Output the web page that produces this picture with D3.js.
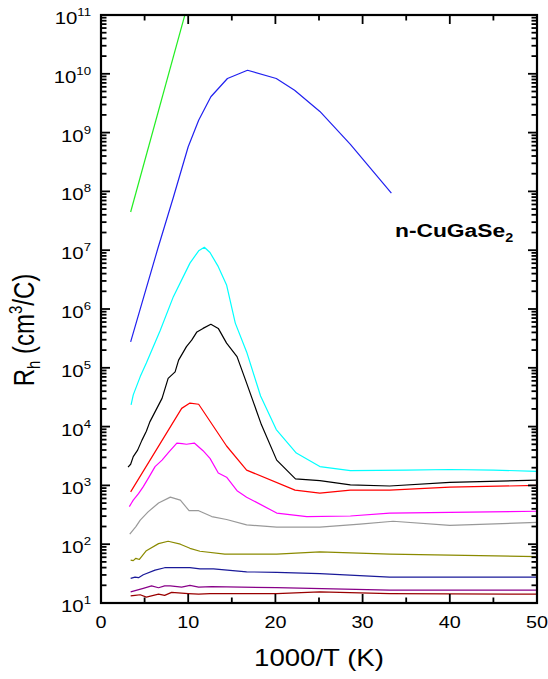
<!DOCTYPE html>
<html>
<head>
<meta charset="utf-8">
<script src="https://cdn.jsdelivr.net/npm/d3@7"></script>
<style>
  body { margin: 0; background: #fff; }
  svg { display: block; font-family: "Liberation Sans", Arial, Helvetica, sans-serif; }
</style>
</head>
<body>
<svg id="chart" width="548" height="679"></svg>
<script>
// ---- data (x = 1000/T in 1/K, values = log10 of R_h in cm^3/C) ----
const xTicks = [0, 10, 20, 30, 40, 50];
const yExponents = [1, 2, 3, 4, 5, 6, 7, 8, 9, 10, 11];

const greenX = [3.4, 9.8];
const greenLog = [7.65, 11.1];

const blueX = [3.4, 6.5, 8.3, 10.0, 11.2, 12.6, 14.5, 16.8, 20.1, 22.2, 25.1, 28.6, 33.3];
const blueLog = [5.44, 7.02, 7.9, 8.76, 9.21, 9.61, 9.92, 10.06, 9.92, 9.72, 9.36, 8.80, 7.97];

const cyanX = [3.45, 3.7, 4.5, 5.2, 6.8, 8.3, 10.2, 11.2, 11.85, 12.5, 13.45, 14.4, 15.4, 16.7, 18.3, 20.1, 22.4, 25.1, 28.6, 35, 40, 45, 50];
const cyanLog = [4.37, 4.54, 4.85, 5.08, 5.64, 6.21, 6.78, 6.99, 7.05, 6.96, 6.72, 6.41, 5.76, 5.27, 4.52, 3.95, 3.55, 3.32, 3.25, 3.26, 3.27, 3.26, 3.24];

const blackX = [3.1, 3.4, 3.7, 4.2, 4.7, 5.2, 5.6, 6.3, 7.0, 7.7, 8.5, 8.9, 9.8, 10.4, 11.0, 11.7, 12.6, 13.45, 14.4, 15.6, 16.7, 18.4, 20.15, 22.3, 25.1, 28.6, 33.1, 40, 50];
const blackLog = [3.31, 3.36, 3.49, 3.6, 3.77, 3.92, 4.08, 4.28, 4.48, 4.82, 4.93, 5.13, 5.36, 5.47, 5.61, 5.67, 5.74, 5.67, 5.42, 5.19, 4.74, 4.03, 3.43, 3.11, 3.08, 3.01, 2.99, 3.05, 3.09];

const redX = [3.4, 9.25, 10.2, 11.2, 14.4, 16.7, 22.25, 25.1, 28.6, 33.1, 40, 50];
const redLog = [2.89, 4.31, 4.40, 4.38, 3.67, 3.26, 2.92, 2.87, 2.92, 2.92, 2.97, 3.00];

const magentaX = [3.25, 3.5, 3.7, 4.3, 4.85, 5.5, 6.2, 7.0, 7.8, 8.7, 9.3, 9.8, 10.7, 11.7, 12.5, 13.45, 14.4, 15.6, 16.7, 20.15, 23.6, 28.6, 33.1, 40, 50];
const magentaLog = [2.64, 2.7, 2.75, 2.86, 2.98, 3.14, 3.32, 3.43, 3.57, 3.72, 3.71, 3.70, 3.72, 3.59, 3.46, 3.21, 3.14, 2.91, 2.80, 2.53, 2.47, 2.48, 2.53, 2.54, 2.56];

const grayX = [3.3, 4.0, 4.5, 5.4, 6.6, 7.95, 9.1, 10.1, 11.2, 12.7, 14.4, 16.7, 20.15, 25.1, 29.7, 33.5, 40, 50];
const grayLog = [2.17, 2.3, 2.41, 2.55, 2.70, 2.80, 2.75, 2.57, 2.57, 2.47, 2.42, 2.33, 2.29, 2.29, 2.34, 2.39, 2.32, 2.37];

const oliveX = [3.4, 3.7, 4.0, 4.4, 5.2, 6.6, 7.7, 9.1, 10.2, 11.35, 14.2, 20.15, 25.1, 33.1, 50];
const oliveLog = [1.73, 1.72, 1.76, 1.74, 1.89, 2.01, 2.05, 2.00, 1.93, 1.88, 1.83, 1.83, 1.87, 1.83, 1.79];

const navyX = [3.4, 3.9, 4.3, 4.85, 6.2, 7.3, 10.2, 11.35, 12.9, 16.7, 20.15, 25.1, 33.1, 50];
const navyLog = [1.42, 1.44, 1.43, 1.48, 1.56, 1.60, 1.60, 1.58, 1.58, 1.53, 1.52, 1.50, 1.44, 1.44];

const purpleX = [3.4, 4.85, 5.8, 6.6, 7.3, 7.95, 9.25, 10.2, 11.2, 12.7, 20.15, 33.1, 50];
const purpleLog = [1.19, 1.25, 1.29, 1.26, 1.29, 1.29, 1.27, 1.30, 1.27, 1.28, 1.26, 1.22, 1.22];

const darkredX = [3.4, 3.9, 4.5, 5.2, 6.6, 7.3, 8.1, 10.0, 11.2, 12.5, 20.15, 25.1, 33.1, 50];
const darkredLog = [1.12, 1.13, 1.14, 1.10, 1.15, 1.13, 1.18, 1.16, 1.15, 1.16, 1.16, 1.19, 1.16, 1.15];

const seriesColors = ["#22ee22", "#2020f0", "#00ffff", "#000000", "#ff0000", "#ff00ff", "#999999", "#8a8a00", "#1a1a99", "#880088", "#990000"];

// ---- chart ----
const series = [
  [greenX, greenLog], [blueX, blueLog], [cyanX, cyanLog], [blackX, blackLog],
  [redX, redLog], [magentaX, magentaLog], [grayX, grayLog], [oliveX, oliveLog],
  [navyX, navyLog], [purpleX, purpleLog], [darkredX, darkredLog]
];

const svg = d3.select("#chart");
const margin = { left: 101, right: 11, top: 15, bottom: 76 };
const W = 548, H = 679;
const x = d3.scaleLinear().domain([0, 50]).range([margin.left, W - margin.right]);
const y = d3.scaleLog().domain([10, 1e11]).range([H - margin.bottom, margin.top]);
const SX = 1.2; // horizontal text stretch seen in the reference

svg.append("clipPath").attr("id", "clip")
  .append("rect").attr("x", x(0)).attr("y", y(1e11))
  .attr("width", x(50) - x(0)).attr("height", y(10) - y(1e11));

const line = d3.line().x(d => x(d[0])).y(d => y(Math.pow(10, d[1])));

const plot = svg.append("g").attr("clip-path", "url(#clip)");
series.forEach((s, i) => {
  const pts = s[0].map((xv, j) => [xv, s[1][j]]);
  plot.append("path").datum(pts)
    .attr("d", line)
    .attr("fill", "none")
    .attr("stroke", seriesColors[i])
    .attr("stroke-width", 1.2)
    .attr("stroke-linejoin", "round");
});

// ---- axes: ticks inward on all four sides ----
const xMinor = d3.range(5, 50, 10);
const majT = 9, minT = 5.5, tw = 1.8;
const axisG = svg.append("g").attr("stroke", "#000").attr("stroke-width", tw);
xTicks.forEach(v => {
  axisG.append("line").attr("x1", x(v)).attr("x2", x(v)).attr("y1", y(10)).attr("y2", y(10) - majT);
  axisG.append("line").attr("x1", x(v)).attr("x2", x(v)).attr("y1", y(1e11)).attr("y2", y(1e11) + majT);
});
xMinor.forEach(v => {
  axisG.append("line").attr("x1", x(v)).attr("x2", x(v)).attr("y1", y(10)).attr("y2", y(10) - minT);
  axisG.append("line").attr("x1", x(v)).attr("x2", x(v)).attr("y1", y(1e11)).attr("y2", y(1e11) + minT);
});
yExponents.forEach(e => {
  const v = Math.pow(10, e);
  axisG.append("line").attr("x1", x(0)).attr("x2", x(0) + majT).attr("y1", y(v)).attr("y2", y(v));
  axisG.append("line").attr("x1", x(50)).attr("x2", x(50) - majT).attr("y1", y(v)).attr("y2", y(v));
  if (e < 11) {
    for (let k = 2; k <= 9; k++) {
      const mv = k * v;
      axisG.append("line").attr("x1", x(0)).attr("x2", x(0) + minT).attr("y1", y(mv)).attr("y2", y(mv));
      axisG.append("line").attr("x1", x(50)).attr("x2", x(50) - minT).attr("y1", y(mv)).attr("y2", y(mv));
    }
  }
});
svg.append("rect")
  .attr("x", x(0)).attr("y", y(1e11))
  .attr("width", x(50) - x(0)).attr("height", y(10) - y(1e11))
  .attr("fill", "none").attr("stroke", "#000").attr("stroke-width", 2.2);

// ---- text ----
function stretched(px, py, anchor) {
  return svg.append("text")
    .attr("transform", `translate(${px},${py}) scale(${SX},1)`)
    .attr("text-anchor", anchor)
    .attr("fill", "#000");
}

xTicks.forEach(v => {
  stretched(x(v), 628, "middle").attr("font-size", 16.5).text(v);
});

yExponents.forEach(e => {
  const t = stretched(91, y(Math.pow(10, e)) + 9, "end").attr("font-size", 17);
  t.append("tspan").text("10");
  t.append("tspan").attr("font-size", 11).attr("dy", -8).text(e);
});

stretched(x(25), 666, "middle").attr("font-size", 23).text("1000/T (K)");

const yt = svg.append("text")
  .attr("transform", `translate(34,330) rotate(-90) scale(1,${SX})`)
  .attr("text-anchor", "middle").attr("font-size", 24).attr("fill", "#000");
yt.append("tspan").text("R");
yt.append("tspan").attr("font-size", 15).attr("dy", 5).text("h");
yt.append("tspan").attr("dy", -5).text(" (cm");
yt.append("tspan").attr("font-size", 15).attr("dy", -10).text("3");
yt.append("tspan").attr("dy", 10).text("/C)");

const ann = stretched(395, 237, "start").attr("font-size", 19).attr("font-weight", "bold");
ann.append("tspan").text("n-CuGaSe");
ann.append("tspan").attr("font-size", 12).attr("dy", 5).text("2");
</script>
</body>
</html>
